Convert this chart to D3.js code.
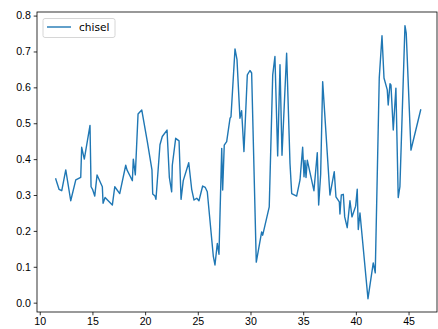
<html>
<head>
<script src="https://cdn.jsdelivr.net/npm/d3@7"></script>
<style>
  body { margin: 0; background: #fff; }
  svg { display: block; font-family: "DejaVu Sans", sans-serif; }
  .axis text { font-size: 10.6px; fill: #000; }
  .axis path, .axis line { stroke: #000; stroke-width: 0.8px; }
</style>
</head>
<body>
<div id="container"></div>
<script>
// series "chisel", values
var xs = [11.52, 11.83, 12.09, 12.47, 12.94, 13.42, 13.89, 13.98, 14.23, 14.77,
  14.87, 15.01, 15.22, 15.44, 15.94, 16.01, 16.20, 16.89, 17.12, 17.59,
  18.16, 18.28, 18.57, 18.79, 18.88, 19.07, 19.33, 19.68, 20.21, 20.65,
  20.72, 20.94, 21.03, 21.41, 21.63, 22.08, 22.30, 22.52, 22.58, 22.90,
  23.22, 23.41, 23.62, 24.14, 24.42, 24.64, 24.90, 25.11, 25.46, 25.71,
  25.90, 26.47, 26.63, 26.85, 27.01, 27.27, 27.36, 27.51, 27.74, 28.06,
  28.15, 28.53, 28.72, 29.00, 29.16, 29.38, 29.70, 29.95, 30.11, 30.55,
  31.06, 31.16, 31.78, 32.11, 32.32, 32.58, 32.80, 32.99, 33.43, 33.75,
  33.91, 34.38, 34.70, 34.95, 35.08, 35.17, 35.27, 35.39, 36.02, 36.34,
  36.47, 36.66, 36.85, 37.54, 37.95, 38.11, 38.43, 38.49, 38.62, 38.81,
  38.94, 39.18, 39.44, 39.63, 39.98, 40.13, 40.23, 40.39, 41.15, 41.65,
  41.84, 42.22, 42.48, 42.67, 42.98, 43.07, 43.24, 43.33, 43.55, 43.80,
  44.02, 44.18, 44.66, 44.78, 45.23, 45.35, 46.15];
var chisel = [0.345, 0.316, 0.312, 0.370, 0.284, 0.342, 0.349, 0.433, 0.400, 0.494,
  0.323, 0.316, 0.297, 0.356, 0.323, 0.277, 0.293, 0.272, 0.323, 0.304,
  0.383, 0.370, 0.353, 0.340, 0.400, 0.356, 0.526, 0.537, 0.449, 0.370,
  0.303, 0.297, 0.288, 0.440, 0.463, 0.481, 0.349, 0.309, 0.383, 0.458,
  0.451, 0.288, 0.340, 0.390, 0.316, 0.286, 0.291, 0.284, 0.325, 0.321,
  0.309, 0.130, 0.105, 0.165, 0.135, 0.430, 0.314, 0.439, 0.449, 0.514,
  0.518, 0.707, 0.677, 0.514, 0.535, 0.421, 0.635, 0.647, 0.640, 0.113,
  0.197, 0.188, 0.267, 0.635, 0.686, 0.409, 0.663, 0.411, 0.695, 0.388,
  0.304, 0.297, 0.342, 0.433, 0.351, 0.396, 0.349, 0.397, 0.312, 0.418,
  0.272, 0.358, 0.616, 0.300, 0.365, 0.295, 0.281, 0.247, 0.300, 0.302,
  0.239, 0.209, 0.284, 0.239, 0.269, 0.316, 0.204, 0.250, 0.011, 0.111,
  0.083, 0.626, 0.744, 0.626, 0.593, 0.551, 0.610, 0.607, 0.481, 0.598,
  0.293, 0.323, 0.772, 0.751, 0.425, 0.440, 0.537];
var xTicks = [10, 15, 20, 25, 30, 35, 40, 45];
var yTicks = [0.0, 0.1, 0.2, 0.3, 0.4, 0.5, 0.6, 0.7, 0.8];
var seriesName = "chisel";

var W = 438, H = 329;
var mLeft = 37, mRight = 437, mTop = 12, mBottom = 312;

var svg = d3.select("#container").append("svg")
  .attr("width", W).attr("height", H);

var x = d3.scaleLinear().domain([9.74, 47.7]).range([mLeft, mRight]);
var y = d3.scaleLinear().domain([-0.026, 0.81]).range([mBottom, mTop]);

var data = xs.map(function(d, i){ return [d, chisel[i]]; });

var line = d3.line()
  .x(function(d){ return x(d[0]); })
  .y(function(d){ return y(d[1]); });

svg.append("path")
  .datum(data)
  .attr("d", line)
  .attr("fill", "none")
  .attr("stroke", "#1f77b4")
  .attr("stroke-width", 1.4)
  .attr("stroke-linejoin", "round")
  .attr("stroke-linecap", "square");

svg.append("g")
  .attr("class", "axis")
  .attr("transform", "translate(0," + mBottom + ")")
  .call(d3.axisBottom(x).tickValues(xTicks).tickSize(3.3).tickPadding(2.5).tickFormat(d3.format("d")))
  .call(function(g){ g.select(".domain").remove(); });

svg.append("g")
  .attr("class", "axis")
  .attr("transform", "translate(" + mLeft + ",0)")
  .call(d3.axisLeft(y).tickValues(yTicks).tickSize(3.3).tickPadding(2.8).tickFormat(d3.format(".1f")))
  .call(function(g){ g.select(".domain").remove(); });

// frame
svg.append("rect")
  .attr("x", mLeft).attr("y", mTop)
  .attr("width", mRight - mLeft).attr("height", mBottom - mTop)
  .attr("fill", "none").attr("stroke", "#000").attr("stroke-width", 0.8);

// legend
var lg = svg.append("g").attr("transform", "translate(43,18.5)");
lg.append("rect")
  .attr("width", 72).attr("height", 19).attr("rx", 2)
  .attr("fill", "#fff").attr("fill-opacity", 0.8)
  .attr("stroke", "#ccc").attr("stroke-width", 0.8);
lg.append("line")
  .attr("x1", 4).attr("x2", 28).attr("y1", 8.5).attr("y2", 8.5)
  .attr("stroke", "#1f77b4").attr("stroke-width", 1.4);
lg.append("text")
  .attr("x", 36).attr("y", 12.5)
  .attr("font-size", "10.6px")
  .text(seriesName);
</script>
</body>
</html>
